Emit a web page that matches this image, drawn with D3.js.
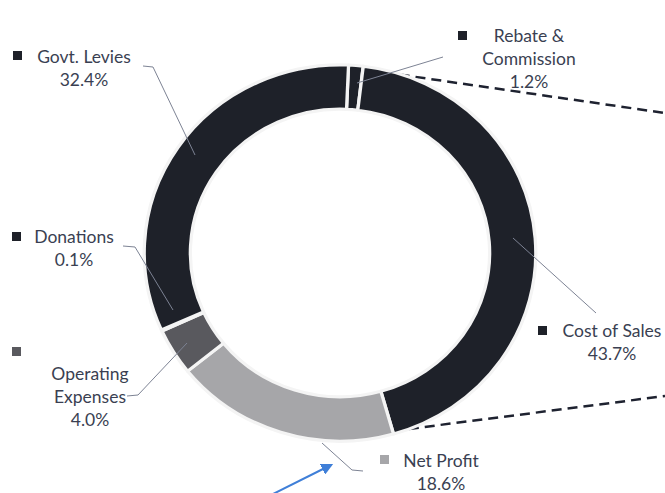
<!DOCTYPE html>
<html>
<head>
<meta charset="utf-8">
<script src="https://cdn.jsdelivr.net/npm/d3@7"></script>
<style>
  html, body { margin: 0; padding: 0; background: #fff; }
  svg { display: block; }
  text { font-family: Lato, "Open Sans", sans-serif; font-size: 17.5px; fill: #3a3f52; }
</style>
</head>
<body>
<svg id="chart" width="665" height="493"></svg>
<script>
// ---- data ----
const categories = ["Rebate & Commission", "Cost of Sales", "Net Profit", "Operating Expenses", "Donations", "Govt. Levies"];
const values = [1.2, 43.7, 18.6, 4.0, 0.1, 32.4];
const labelLines = [["Rebate &", "Commission"], ["Cost of Sales"], ["Net Profit"], ["", "Operating", "Expenses"], ["Donations"], ["Govt. Levies"]];

// ---- styling / layout ----
const colors = ["#1e2129", "#1e2129", "#a6a6a9", "#59595e", "#1e2129", "#1e2129"];
const W = 665, H = 493;
const cx = 340, cy = 253, rOuter = 191, rInner = 146;
const startOffset = 2.5 * Math.PI / 180;

const svg = d3.select("#chart");

// dashed connector lines (drawn beneath ring)
const dashes = [[[368, 70], [665, 113]], [[393, 431], [665, 396]]];
svg.selectAll("path.dash").data(dashes).join("path")
  .attr("class", "dash")
  .attr("d", d => d3.line()(d))
  .attr("fill", "none").attr("stroke", "#1e2230")
  .attr("stroke-width", 2.5).attr("stroke-dasharray", "10,6");

// ring
const pie = d3.pie().sort(null).value(d => d)
  .startAngle(startOffset).endAngle(2 * Math.PI + startOffset);
const arcs = pie(values);
const arc = d3.arc().innerRadius(rInner).outerRadius(rOuter);

const g = svg.append("g").attr("transform", `translate(${cx},${cy}) scale(1.025,0.985)`);
g.selectAll("path").data(arcs).join("path")
  .attr("d", arc)
  .attr("fill", (d, i) => colors[i])
  .attr("stroke", "#f4f4f4").attr("stroke-width", 3.2).attr("stroke-linejoin", "round");

// labels: layout per category (center x, first baseline, marker position)
const fmt = d3.format(".1f");
const labelLayout = [
  { x: 529, y: 42, mx: 458, my: 31 },
  { x: 612, y: 337, mx: 538, my: 326 },
  { x: 441, y: 467, mx: 380, my: 455 },
  { x: 90, y: 357, mx: 12, my: 347 },
  { x: 74, y: 243, mx: 12, my: 232 },
  { x: 84, y: 63, mx: 13, my: 51 }
];
const lineH = 23;

const leaders = [
  [[443, 57], [357, 83]],
  [[513, 238], [596, 313]],
  [[322, 443], [352, 470], [363, 471]],
  [[127, 396], [138, 395], [187, 343]],
  [[123, 246], [135, 247], [173, 310]],
  [[143, 66], [153, 67], [195, 155]]
];
svg.selectAll("path.leader").data(leaders).join("path")
  .attr("class", "leader")
  .attr("d", d => d3.line()(d))
  .attr("fill", "none").attr("stroke", "#7d8394").attr("stroke-width", 1);

categories.forEach((c, i) => {
  const L = labelLayout[i];
  const lines = labelLines[i].concat([fmt(values[i]) + "%"]);
  svg.append("rect")
    .attr("x", L.mx).attr("y", L.my).attr("width", 9).attr("height", 9)
    .attr("fill", colors[i]);
  const t = svg.append("text").attr("text-anchor", "middle");
  lines.forEach((ln, j) => {
    if (ln === "") return;
    t.append("tspan").attr("x", L.x).attr("y", L.y + j * lineH).text(ln);
  });
});

// blue arrow
const defs = svg.append("defs");
defs.append("marker").attr("id", "ah").attr("viewBox", "0 0 10 10")
  .attr("refX", 8).attr("refY", 5).attr("markerWidth", 6).attr("markerHeight", 6)
  .attr("orient", "auto")
  .append("path").attr("d", "M0,0 L10,5 L0,10 Z").attr("fill", "#3f7fd8");
svg.append("path").attr("d", d3.line()([[271, 495], [331, 465]]))
  .attr("stroke", "#3f7fd8").attr("stroke-width", 2).attr("fill", "none")
  .attr("marker-end", "url(#ah)");
</script>
</body>
</html>
